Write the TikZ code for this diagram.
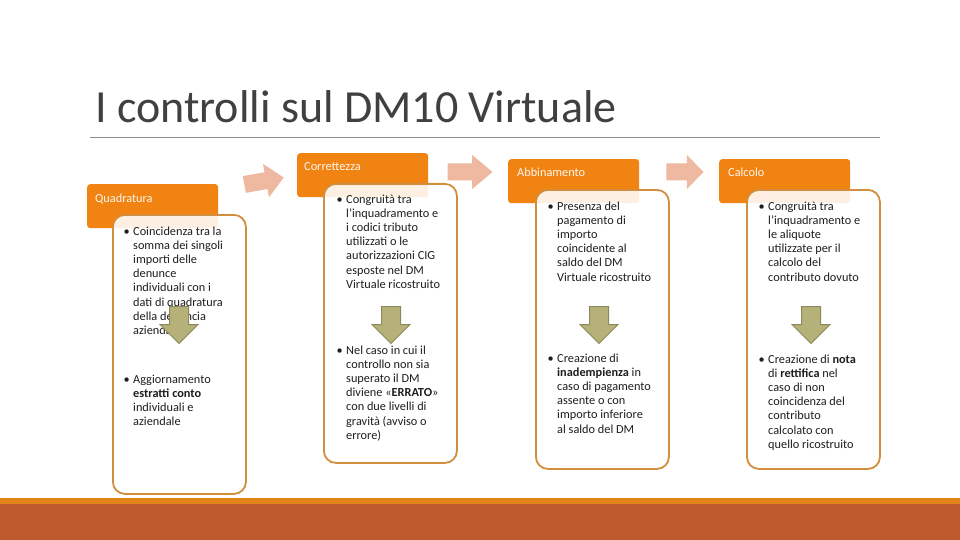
\documentclass[tikz,border=0pt]{standalone}
\usepackage{fontspec}
\setmainfont{Carlito}
\definecolor{headorange}{RGB}{240,131,18}
\definecolor{boxborder}{RGB}{210,142,60}
\definecolor{olivefill}{RGB}{181,177,121}
\definecolor{oliveline}{RGB}{140,138,92}
\definecolor{arrowpink}{RGB}{238,185,160}
\definecolor{stripeorange}{RGB}{226,132,26}
\definecolor{stripedark}{RGB}{190,89,45}
\definecolor{titlegray}{RGB}{64,64,64}
\definecolor{rulegray}{RGB}{140,140,140}
\definecolor{bodytext}{RGB}{30,30,30}
\tikzset{
  header/.style={fill=headorange, rounded corners=3pt, inner sep=0pt, anchor=north west, minimum width=131pt, minimum height=44pt},
  headlabel/.style={anchor=base west, inner sep=0pt, text=white!94!orange, font=\fontsize{12.3}{14}\selectfont},
  contentbox/.style={draw=boxborder, line width=1.8pt, fill=white, fill opacity=0.88, rounded corners=12pt, inner sep=0pt, anchor=north west, minimum width=133pt, minimum height=279pt},
  bodytxt/.style={anchor=north west, inner sep=0pt, align=left, text=bodytext, font=\fontsize{12.3}{14.2}\selectfont},
  pics/rarrow/.style={code={\fill[arrowpink] (-20,-8.5) -- (2,-8.5) -- (2,-17) -- (20,0) -- (2,17) -- (2,8.5) -- (-20,8.5) -- cycle;}},
  pics/darrow/.style={code={\filldraw[fill=olivefill, draw=oliveline, line width=1pt, line join=miter] (-9.5,-18.5) -- (9.5,-18.5) -- (9.5,-0.5) -- (19,-0.5) -- (0,18.5) -- (-19,-0.5) -- (-9.5,-0.5) -- cycle;}}
}
\newcommand{\bul}{\llap{•\hspace{3.5pt}}}
\begin{document}
\begin{tikzpicture}[x=1pt,y=-1pt]
\useasboundingbox (0,0) rectangle (960,540);
\fill[white] (0,0) rectangle (960,540);
% title
\node[anchor=base west, inner sep=0pt, text=titlegray, font=\fontsize{46}{50}\selectfont] (title) at (95,123) {I controlli sul DM10 Virtuale};
\draw[rulegray, line width=0.9pt] (90,137) -- (880,137);
% headers
\node[header] (hq) at (87,184) {};
\node[header] (hc) at (297,153) {};
\node[header] (ha) at (508,159) {};
\node[header] (hk) at (719,159) {};
\node[headlabel] (lq) at (95,202) {Quadratura};
\node[headlabel] (lc) at (304,171) {Correttezza};
\node[headlabel] (la) at (517,177) {Abbinamento};
\node[headlabel] (lk) at (728,177) {Calcolo};
% content boxes
\node[contentbox] (cq) at (112,214) {};
\node[contentbox] (cc) at (323,183) {};
\node[contentbox] (ca) at (535,189) {};
\node[contentbox] (ck) at (746,189) {};
% texts
\node[bodytxt] (tq1) at (133,225) {\strut\bul Coincidenza tra la\\somma dei singoli\\importi delle\\denunce\\individuali con i\\dati di quadratura\\della denuncia\\aziendale};
\node[bodytxt] (tq2) at (133,373) {\strut\bul Aggiornamento\\\textbf{estratti conto}\\individuali e\\aziendale};
\node[bodytxt] (tc1) at (346,193) {\strut\bul Congruità tra\\l’inquadramento e\\i codici tributo\\utilizzati o le\\autorizzazioni CIG\\esposte nel DM\\Virtuale ricostruito};
\node[bodytxt] (tc2) at (346,344) {\strut\bul Nel caso in cui il\\controllo non sia\\superato il DM\\diviene «\textbf{ERRATO}»\\con due livelli di\\gravità (avviso o\\errore)};
\node[bodytxt] (ta1) at (557,200) {\strut\bul Presenza del\\pagamento di\\importo\\coincidente al\\saldo del DM\\Virtuale ricostruito};
\node[bodytxt] (ta2) at (557,352) {\strut\bul Creazione di\\\textbf{inadempienza} in\\caso di pagamento\\assente o con\\importo inferiore\\al saldo del DM};
\node[bodytxt] (tk1) at (768,200) {\strut\bul Congruità tra\\l’inquadramento e\\le aliquote\\utilizzate per il\\calcolo del\\contributo dovuto};
\node[bodytxt] (tk2) at (768,353) {\strut\bul Creazione di \textbf{nota}\\di \textbf{rettifica} nel\\caso di non\\coincidenza del\\contributo\\calcolato con\\quello ricostruito};
% down arrows
\pic (dq) at (179,325) {darrow};
\pic (dc) at (391,325) {darrow};
\pic (da) at (599,325) {darrow};
\pic (dk) at (811,325) {darrow};
% right arrows
\pic[rotate=10] (r1) at (264,181) {rarrow};
\pic[xscale=1.12] (r2) at (470,172) {rarrow};
\pic[xscale=0.93] (r3) at (685,172) {rarrow};
% bottom band
\fill[stripeorange] (0,498) rectangle (960,504);
\fill[stripedark] (0,504) rectangle (960,540);
\end{tikzpicture}
\end{document}
